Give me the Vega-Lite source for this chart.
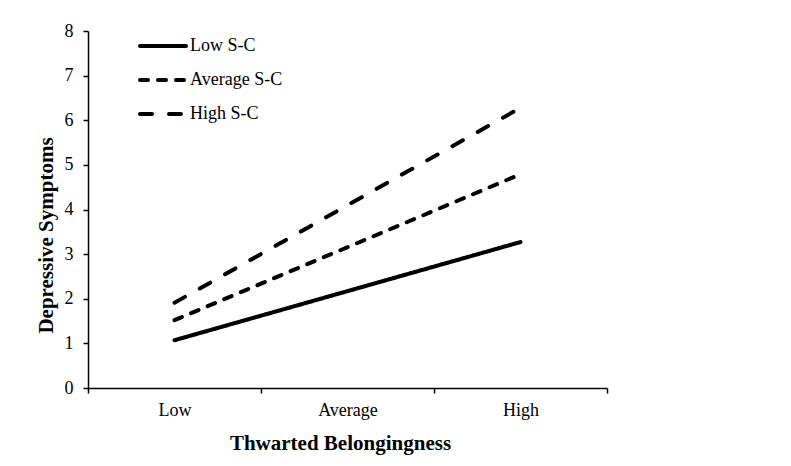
{
  "$schema": "https://vega.github.io/schema/vega-lite/v6.json",
  "autosize": "none",
  "width": 519,
  "height": 357,
  "padding": {"left": 88, "top": 31, "right": 184, "bottom": 78},
  "background": "white",
  "config": {
    "view": {"stroke": null},
    "font": "Liberation Serif",
    "axis": {
      "labelFont": "Liberation Serif",
      "titleFont": "Liberation Serif",
      "labelFontSize": 18,
      "titleFontSize": 21,
      "titleFontWeight": "bold",
      "labelColor": "black",
      "titleColor": "black",
      "domainColor": "black",
      "tickColor": "black",
      "domainWidth": 1.5,
      "tickWidth": 1.5,
      "tickSize": 5,
      "grid": false,
      "labelOverlap": false
    },
    "legend": {
      "labelFont": "Liberation Serif",
      "labelFontSize": 18,
      "labelColor": "black"
    }
  },
  "data": {
    "values": [
      {"tb": "Low", "sc": "Low S-C", "dep": 1.07},
      {"tb": "High", "sc": "Low S-C", "dep": 3.27},
      {"tb": "Low", "sc": "Average S-C", "dep": 1.52},
      {"tb": "High", "sc": "Average S-C", "dep": 4.79},
      {"tb": "Low", "sc": "High S-C", "dep": 1.91},
      {"tb": "High", "sc": "High S-C", "dep": 6.28}
    ]
  },
  "mark": {"type": "line", "strokeWidth": 4, "strokeCap": "round", "color": "black"},
  "encoding": {
    "x": {
      "field": "tb",
      "type": "ordinal",
      "scale": {"domain": ["Low", "Average", "High"], "paddingInner": 0, "paddingOuter": 0},
      "axis": {
        "title": "Thwarted Belongingness",
        "labelAngle": 0,
        "tickBand": "extent",
        "labelPadding": 8,
        "titleX": 252,
        "titleY": 61,
        "titleBaseline": "alphabetic"
      }
    },
    "y": {
      "field": "dep",
      "type": "quantitative",
      "scale": {"domain": [0, 8], "nice": false, "zero": true},
      "axis": {
        "title": "Depressive Symptoms",
        "values": [0, 1, 2, 3, 4, 5, 6, 7, 8],
        "labelPadding": 10,
        "titleY": 204,
        "titlePadding": 8
      }
    },
    "strokeDash": {
      "field": "sc",
      "type": "nominal",
      "scale": {
        "domain": ["Low S-C", "Average S-C", "High S-C"],
        "range": [[1, 0], [8, 10], [12, 17]]
      },
      "legend": {
        "title": null,
        "orient": "none",
        "legendX": 50,
        "legendY": -10,
        "padding": 0,
        "rowPadding": -25,
        "symbolSize": 2116,
        "symbolStrokeWidth": 4,
        "symbolStrokeColor": "black",
        "labelOffset": 2,
        "encode": {"symbols": {"update": {"strokeCap": {"value": "round"}}}}
      }
    }
  }
}
